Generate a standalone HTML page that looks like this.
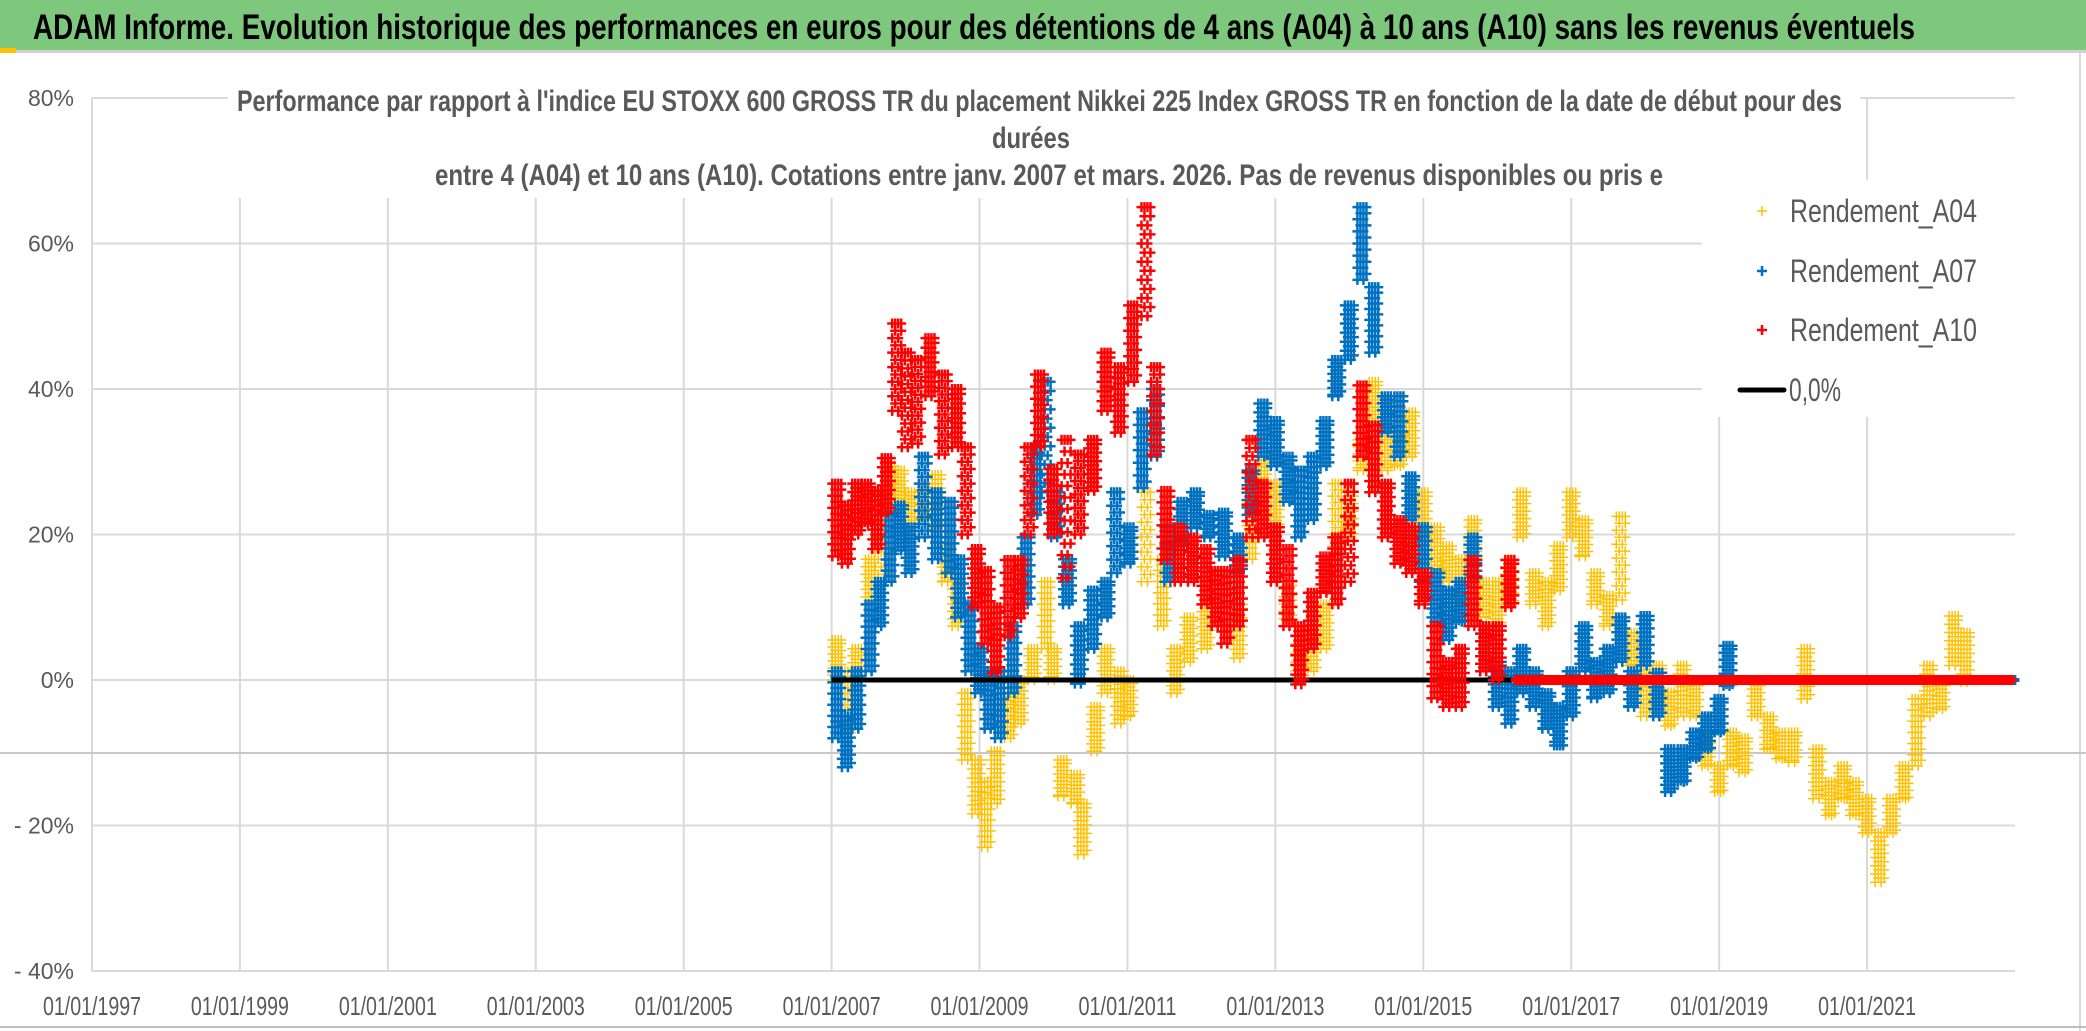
<!DOCTYPE html>
<html><head><meta charset="utf-8"><style>
html,body{margin:0;padding:0;background:#fff;}
svg{display:block;font-family:"Liberation Sans",sans-serif;}
</style></head><body>
<svg id="chart" width="2086" height="1031" viewBox="0 0 2086 1031" xmlns="http://www.w3.org/2000/svg">
<rect x="0" y="0" width="2086" height="1031" fill="#fff"/>
<rect x="0" y="0" width="2086" height="50" fill="#7dc87d"/>
<rect x="0" y="50" width="2086" height="3" fill="#d0d0d0"/>
<rect x="0" y="48" width="16" height="5" fill="#ffc000"/>
<text x="33" y="39" font-size="35" font-weight="bold" fill="#000" textLength="1882" lengthAdjust="spacingAndGlyphs">ADAM Informe. Evolution historique des performances en euros pour des détentions de 4 ans (A04) à 10 ans (A10) sans les revenus éventuels</text>
<line x1="2080" y1="53" x2="2080" y2="1031" stroke="#d9d9d9" stroke-width="2"/>
<line x1="0" y1="1027" x2="2086" y2="1027" stroke="#bfbfbf" stroke-width="2"/>
<g id="grid"></g>
<line x1="0" y1="753" x2="2086" y2="753" stroke="#c8c8c8" stroke-width="2"/>
<rect x="228" y="82" width="1632" height="116" fill="#fff"/>
<g fill="#595959" font-size="30" font-weight="bold">
<text x="237" y="111" textLength="1605" lengthAdjust="spacingAndGlyphs">Performance par rapport à l'indice EU STOXX 600 GROSS TR  du placement Nikkei 225 Index GROSS TR en fonction de la date de début pour des</text>
<text x="1031" y="148" text-anchor="middle" textLength="78" lengthAdjust="spacingAndGlyphs">durées</text>
<text x="435" y="185" textLength="1228" lengthAdjust="spacingAndGlyphs">entre 4 (A04) et 10 ans (A10). Cotations entre janv. 2007 et mars. 2026. Pas de revenus disponibles ou pris e</text>
</g>
<g id="yticks" fill="#595959" font-size="23" text-anchor="end"></g>
<g id="xticks" fill="#595959" font-size="26" text-anchor="middle"></g>
<g id="plot"></g>
<g>
<rect x="1702" y="180" width="313" height="237" fill="#fff"/>
<g><path d="M1757 211h10M1762 206v10" stroke="#ffc000" stroke-width="1.5"/><text x="1790" y="222" font-size="32" fill="#595959" textLength="187" lengthAdjust="spacingAndGlyphs">Rendement_A04</text></g>
<g><path d="M1757 271h10M1762 266v10" stroke="#0070c0" stroke-width="2.5"/><text x="1790" y="282" font-size="32" fill="#595959" textLength="187" lengthAdjust="spacingAndGlyphs">Rendement_A07</text></g>
<g><path d="M1757 330h10M1762 325v10" stroke="#ff0000" stroke-width="2.5"/><text x="1790" y="341" font-size="32" fill="#595959" textLength="187" lengthAdjust="spacingAndGlyphs">Rendement_A10</text></g>
<g><line x1="1740" y1="390" x2="1784" y2="390" stroke="#000" stroke-width="5" stroke-linecap="round"/><text x="1789" y="401" font-size="32" fill="#595959" textLength="52" lengthAdjust="spacingAndGlyphs">0,0%</text></g>
</g>
</svg>
<script>
// ---- data ----
const yTicks = [80, 60, 40, 20, 0, -20, -40];
const yTickLabels = ["80%", "60%", "40%", "20%", "0%", "- 20%", "- 40%"];
const xTickYears = [1997, 1999, 2001, 2003, 2005, 2007, 2009, 2011, 2013, 2015, 2017, 2019, 2021];
const xTickLabels = ["01/01/1997","01/01/1999","01/01/2001","01/01/2003","01/01/2005","01/01/2007","01/01/2009","01/01/2011","01/01/2013","01/01/2015","01/01/2017","01/01/2019","01/01/2021"];
const xStart = 1997, xEnd = 2023;

const a04Dates = [2007.07,2007.20,2007.34,2007.52,2007.65,2007.79,2007.92,2008.06,2008.24,2008.42,2008.55,2008.69,2008.82,2008.96,2009.09,2009.22,2009.40,2009.54,2009.72,2009.90,2009.99,2010.12,2010.30,2010.39,2010.57,2010.71,2010.89,2011.02,2011.25,2011.47,2011.65,2011.83,2012.06,
2012.50,2012.67,2012.83,2013.00,2013.17,2013.33,2013.50,2013.67,2013.83,2014.00,2014.17,2014.33,2014.50,2014.67,2014.83,2015.00,2015.17,2015.33,2015.50,2015.67,2015.83,2016.00,2016.17,2016.33,2016.50,2016.67,2016.83,2017.00,2017.17,2017.33,2017.50,
2017.67,2017.83,2018.00,2018.17,2018.33,2018.50,2018.67,2018.83,2019.00,2019.17,2019.33,2019.50,2019.67,2019.83,2020.00,2020.17,2020.33,2020.50,2020.67,2020.83,2021.00,2021.17,2021.33,2021.50,2021.67,2021.83,2022.00,2022.17,2022.33];
const a04Lo = [0,-8,1.2,10.4,13.5,24.5,23.3,20.9,22,20.9,13.5,7.4,-11,-18.4,-23,-17,-8,-6,0,4.3,0,-16,-17,-24,-9.8,-1.8,-6,-5,13.5,7.4,-1.8,2.5,4.3,
3,16.6,25.8,20.9,7.4,0,1.2,4.3,16.6,19.6,28.8,35,28.8,29.4,30.7,19.6,14.7,13.5,10.4,16.6,8.6,7.4,10.4,19.6,10.4,7.4,12.3,19.6,17,10.4,7.4,
11,2,-5,-2.6,-6.3,-5,-5,-11.8,-15.4,-11.8,-12.7,-5,-9.5,-10.8,-11.3,-2.6,-16.3,-18.6,-16.3,-18.6,-21,-27.8,-21,-16.3,-11.8,-5,-4,2,-0.3];
const a04Hi = [5.5,1.2,4.3,16.6,25.8,29.4,28.8,25.8,27,28.2,18.4,13.5,-1.8,-11,-14,-9.8,-1.8,0,4.3,13.5,4.3,-11,-13,-17,-3.7,4.3,1.2,0,25.8,16.6,4.3,8.6,10.4,
10.4,25.8,30.7,27,13.5,7.4,7.4,10.4,27,25.8,33,41,34,34,36.8,25.8,21,18.4,16.6,22,13.5,13.5,16.6,25.8,14.7,13.5,18.4,25.8,22,14.7,11.6,
22.5,6.5,2,2,-1.7,2,-0.3,-7.2,-11.8,-7.2,-8,-0.3,-5,-7.2,-7.2,4.3,-9.5,-14,-11.8,-14,-16.3,-21,-16.3,-11.8,-2.6,2,-0.3,8.8,6.5];

const a07Dates = [2007.07,2007.20,2007.34,2007.52,2007.65,2007.79,2007.92,2008.06,2008.24,2008.42,2008.60,2008.73,2008.87,2009.00,2009.13,2009.27,2009.45,2009.63,2009.76,2009.90,2010.03,2010.19,2010.35,2010.53,2010.71,2010.84,2011.02,2011.20,2011.38,2011.56,2011.74,2011.92,2012.10,2012.30,
2012.50,2012.67,2012.83,2013.00,2013.17,2013.33,2013.50,2013.67,2013.83,2014.00,2014.17,2014.33,2014.50,2014.67,2014.83,2015.00,2015.17,2015.33,2015.50,2015.67,2015.83,2016.00,2016.17,2016.33,2016.50,2016.67,2016.83,2017.00,2017.17,2017.33,2017.50,2017.67,2017.83,
2018.00,2018.17,2018.33,2018.50,2018.67,2018.83,2019.00,2019.12];
const a07Lo = [-8,-12,-6.7,1.2,7.4,13.5,17.8,14.7,19.6,16.6,14.7,8.6,1.2,-1.8,-6.7,-8,-1.8,10.4,22.7,25.8,19.6,10.4,-0.5,4.3,8.6,14.7,16,26.4,30.7,13.5,18.4,20.9,19.6,17,
14.7,22.7,30.7,29.4,24.5,19.6,22,29.4,39,44,55,45,34,30.7,22,13.5,7.4,5.5,8,13.5,1.2,-3.7,-6,-1.8,-3.7,-6.7,-9,-5,1.2,-2.5,-1.8,2.5,-3.7,
2,-5,-15.4,-14,-10.8,-9.5,-7.2,-0.8];
const a07Hi = [1.2,-5,1.2,10.4,13.5,22.7,24,21,30.7,25.8,24.5,16.6,10.4,4.3,1.2,1.2,7.4,19.6,32,41,25.8,16.6,7.4,12.3,13.5,25.8,21,36.8,40,21,24.5,25.8,22.7,23,
19.6,28.8,38,35.6,30.7,28.8,30.7,35.6,44,51.5,65,54,39,39,28,21,14.7,12.3,13.5,19.6,7.4,2.5,1.2,4.3,1.2,-1.8,-3.7,1.2,7.4,2.5,4.3,8.6,1.2,
8.8,1,-9.5,-9.5,-7.2,-5,-2.6,4.7];

const a10Dates = [2007.07,2007.20,2007.34,2007.47,2007.61,2007.74,2007.88,2008.01,2008.15,2008.33,2008.51,2008.69,2008.82,2008.96,2009.09,2009.22,2009.40,2009.54,2009.67,2009.81,2009.99,2010.17,2010.35,2010.53,2010.71,2010.89,2011.07,2011.25,2011.38,2011.52,2011.70,2011.88,2012.06,2012.20,
2012.33,2012.50,2012.67,2012.83,2013.00,2013.17,2013.33,2013.50,2013.67,2013.83,2014.00,2014.17,2014.33,2014.50,2014.67,2014.83,2015.00,2015.17,2015.33,2015.50,2015.67,2015.83,2016.00,2016.17];
const a10Lo = [17,16,20,21.5,18,23,37,32,32.5,39,31,32,20,10,5,1,6,8.5,20,32,20,14,20,26,37,34,41,50,31,16.5,13.5,13.5,10.4,7.4,
5,7.4,19.6,19.6,13.5,7.4,-0.6,4.3,12,10.4,13.5,30.7,25.8,19.6,16,14.7,10.4,-2.5,-3.7,-3.7,7.4,1.2,0,10];
const a10Hi = [27,24,27,27,26,30.5,49,45,44,47,42,40,32,18,15,10,16.5,16.5,32,42,29,33,31,33,45,43,51.5,65,43,26,21,19.6,18,15,
15,16.5,33,27,21,18,7.4,12,17,19.6,27,40.5,35,27,22,21,14.7,7.4,2.5,4.3,16.5,7.4,7.4,16.5];

const zeroLineStart = 2007.0, zeroLineEnd = 2016.2;

// ---- scales ----
const PL = 92, PR = 2015, Y80 = 98, Y_40 = 971;
function xs(yr){ return PL + (yr - xStart) / (xEnd - xStart) * (PR - PL); }
function ys(v){ return Y80 + (80 - v) / 120 * (Y_40 - Y80); }

const NS = "http://www.w3.org/2000/svg";
function mk(tag, parent){ const e = document.createElementNS(NS, tag); parent.appendChild(e); return e; }

const grid = document.getElementById('grid');
yTicks.forEach((t, i) => {
  const l = mk('line', grid);
  
  
  l.setAttribute('x1', PL); l.setAttribute('x2', PR);
  l.setAttribute('y1', ys(t)); l.setAttribute('y2', ys(t));
  l.setAttribute('stroke', '#d9d9d9'); l.setAttribute('stroke-width', 2);
  const tx = mk('text', document.getElementById('yticks'));
  
  
  tx.setAttribute('x', 74); tx.setAttribute('y', ys(t) + 8);
  tx.textContent = yTickLabels[i];
});
xTickYears.forEach((yr, i) => {
  const l = mk('line', grid);
  
  
  l.setAttribute('x1', xs(yr)); l.setAttribute('x2', xs(yr));
  l.setAttribute('y1', Y80); l.setAttribute('y2', Y_40);
  l.setAttribute('stroke', '#d9d9d9'); l.setAttribute('stroke-width', 2);
  const tx = mk('text', document.getElementById('xticks'));
  
  
  tx.setAttribute('x', xs(yr)); tx.setAttribute('y', 1015);
  tx.setAttribute('textLength', 98);
  tx.setAttribute('lengthAdjust', 'spacingAndGlyphs');
  tx.textContent = xTickLabels[i];
});

const plot = document.getElementById('plot');
function cross(x, y){ return 'M' + (x-5) + ' ' + y + 'h10M' + x + ' ' + (y-5) + 'v10'; }

function drawSeries(name, dates, lo, hi, color, sw){
  const g = mk('g', plot);
  
  
  for (let i = 0; i < dates.length; i++){
    const p = mk('path', g);
    
    
    let d = '';
    const y1 = ys(hi[i]), y2 = ys(lo[i]);
    const x0 = xs(dates[i]);
    const step = Math.max(7, (y2 - y1) / 6);
    [-4.5, -1.5, 1.5, 4.5].forEach((dx, k) => {
      for (let y = y1 + (k % 2) * step / 2; y <= y2 + 0.1; y += step) d += cross(x0 + dx, y);
      d += cross(x0 + dx, k % 2 ? y1 : y2);
    });
    p.setAttribute('d', d);
    p.setAttribute('stroke', color);
    p.setAttribute('stroke-width', sw);
    p.setAttribute('fill', 'none');
  }
  const z = mk('path', g);
  
  
  let dz = '';
  for (let t = dates[dates.length-1] + 0.08; t <= xEnd; t += 1/24) dz += cross(xs(t), ys(0));
  z.setAttribute('d', dz);
  z.setAttribute('stroke', color);
  z.setAttribute('stroke-width', sw + 1.5);
  z.setAttribute('fill', 'none');
}

drawSeries('series-a04', a04Dates, a04Lo, a04Hi, '#ffc000', 1.5);
drawSeries('series-a07', a07Dates, a07Lo, a07Hi, '#0070c0', 2.5);
const zl = mk('line', plot);


zl.setAttribute('x1', xs(zeroLineStart)); zl.setAttribute('x2', xs(zeroLineEnd));
zl.setAttribute('y1', ys(0)); zl.setAttribute('y2', ys(0));
zl.setAttribute('stroke', '#000'); zl.setAttribute('stroke-width', 5);
drawSeries('series-a10', a10Dates, a10Lo, a10Hi, '#ff0000', 2.5);
</script>
</body></html>
